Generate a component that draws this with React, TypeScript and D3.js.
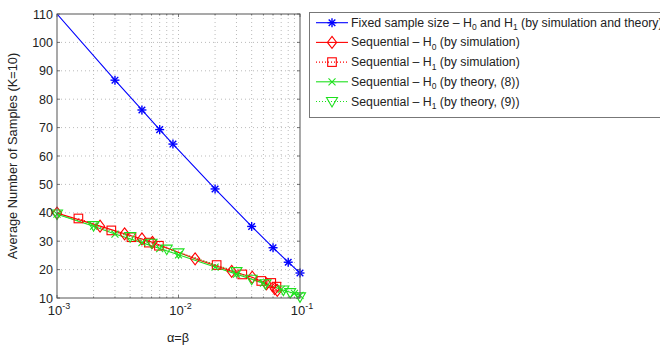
import React from "react";
import * as d3 from "d3";

// ---- data ----
const alphaFixed = [0.001, 0.003, 0.005, 0.007, 0.009, 0.02, 0.04, 0.06, 0.08, 0.1];
const nFixed = [110, 86.7, 76.2, 69.3, 64.2, 48.4, 35.2, 27.7, 22.6, 18.8];

const alphaSimH0 = [0.001, 0.00226, 0.0036, 0.005, 0.0061, 0.0137, 0.0274, 0.0405, 0.053, 0.062, 0.065];
const nSimH0 = [39.9, 35.3, 32.6, 30.8, 29.6, 23.8, 19.4, 17.3, 15.0, 13.3, 12.7];

const alphaSimH1 = [0.0015, 0.0028, 0.0041, 0.0057, 0.0069, 0.0206, 0.0335, 0.048, 0.058, 0.064];
const nSimH1 = [38.0, 33.8, 31.4, 29.5, 28.4, 21.6, 18.3, 16.0, 15.3, 14.0];

const alphaThH0 = [0.001, 0.002, 0.003, 0.005, 0.007, 0.01, 0.02, 0.03, 0.05, 0.07, 0.09, 0.1];
const nThH0 = [39.5, 35.3, 32.5, 29.5, 27.4, 25.2, 20.9, 18.4, 15.2, 13.0, 11.6, 10.9];

const alphaThH1 = [0.001, 0.002, 0.004, 0.006, 0.008, 0.01, 0.03, 0.04, 0.052, 0.073, 0.083, 0.1];
const nThH1 = [39.6, 35.5, 31.6, 29.3, 27.2, 25.9, 19.3, 16.6, 15.0, 12.8, 11.9, 10.4];

const yTicks = [10, 20, 30, 40, 50, 60, 70, 80, 90, 100, 110];
const xMajor = [0.001, 0.01, 0.1];
const xMajorExp = ["-3", "-2", "-1"];

const BLUE = "#0000ff";
const RED = "#ff0000";
const GREEN = "#1ee01e";

type Kind = "star" | "diamond" | "square" | "x" | "tri";

function Marker({ kind, x, y, color }: { kind: Kind; x: number; y: number; color: string }) {
  const sw = 1.1;
  if (kind === "star") {
    const r = 4.5, d = 3.3;
    return (
      <g stroke={color} strokeWidth={1.4}>
        <line x1={x - r} y1={y} x2={x + r} y2={y} />
        <line x1={x} y1={y - r} x2={x} y2={y + r} />
        <line x1={x - d} y1={y - d} x2={x + d} y2={y + d} />
        <line x1={x - d} y1={y + d} x2={x + d} y2={y - d} />
      </g>
    );
  }
  if (kind === "diamond") {
    return <path d={`M${x},${y - 6}L${x + 4.6},${y}L${x},${y + 6}L${x - 4.6},${y}Z`} fill="none" stroke={color} strokeWidth={sw} />;
  }
  if (kind === "square") {
    return <rect x={x - 4.3} y={y - 4.3} width={8.6} height={8.6} fill="none" stroke={color} strokeWidth={sw} />;
  }
  if (kind === "x") {
    const r = 3.5;
    return (
      <g stroke={color} strokeWidth={sw}>
        <line x1={x - r} y1={y - r} x2={x + r} y2={y + r} />
        <line x1={x - r} y1={y + r} x2={x + r} y2={y - r} />
      </g>
    );
  }
  return <path d={`M${x - 5.5},${y - 4}L${x + 5.5},${y - 4}L${x},${y + 5.5}Z`} fill="none" stroke={color} strokeWidth={sw} />;
}

export default function App() {
  const left = 57, right = 300, top = 14, bottom = 298;
  const x = d3.scaleLog().domain([0.001, 0.1]).range([left, right]);
  const y = d3.scaleLinear().domain([10, 110]).range([bottom, top]);
  const line = d3
    .line<[number, number]>()
    .x((d) => x(d[0]))
    .y((d) => y(d[1]));
  const zip = (a: number[], b: number[]) => a.map((v, i) => [v, b[i]] as [number, number]);

  const minor: number[] = [];
  [0.001, 0.01].forEach((base) => {
    for (let k = 2; k <= 9; k++) minor.push(base * k);
  });
  const font = "'Liberation Sans', Arial, Helvetica, sans-serif";
  const axisColor = "#555";
  const gridColor = "#aaa";
  const LF = 12.3;

  const series: { xs: number[]; ys: number[]; color: string; kind: Kind; dash?: string; skipFirst?: boolean }[] = [
    { xs: alphaFixed, ys: nFixed, color: BLUE, kind: "star", skipFirst: true },
    { xs: alphaSimH0, ys: nSimH0, color: RED, kind: "diamond" },
    { xs: alphaSimH1, ys: nSimH1, color: RED, kind: "square", dash: "1,2" },
    { xs: alphaThH0, ys: nThH0, color: GREEN, kind: "x" },
    { xs: alphaThH1, ys: nThH1, color: GREEN, kind: "tri", dash: "1,2" },
  ];

  const sub = (s: string) => (
    <tspan fontSize={8.5} dy={3.5}>
      {s}
    </tspan>
  );

  const legendItems: { kind: Kind; color: string; dash?: string; label: React.ReactNode }[] = [
    {
      kind: "star",
      color: BLUE,
      label: (
        <>
          Fixed sample size – H{sub("0")}
          <tspan dy={-3.5}> and H</tspan>
          {sub("1")}
          <tspan dy={-3.5}> (by simulation and theory)</tspan>
        </>
      ),
    },
    {
      kind: "diamond",
      color: RED,
      label: (
        <>
          Sequential – H{sub("0")}
          <tspan dy={-3.5}> (by simulation)</tspan>
        </>
      ),
    },
    {
      kind: "square",
      color: RED,
      dash: "1,2",
      label: (
        <>
          Sequential – H{sub("1")}
          <tspan dy={-3.5}> (by simulation)</tspan>
        </>
      ),
    },
    {
      kind: "x",
      color: GREEN,
      label: (
        <>
          Sequential – H{sub("0")}
          <tspan dy={-3.5}> (by theory, (8))</tspan>
        </>
      ),
    },
    {
      kind: "tri",
      color: GREEN,
      dash: "1,2",
      label: (
        <>
          Sequential – H{sub("1")}
          <tspan dy={-3.5}> (by theory, (9))</tspan>
        </>
      ),
    },
  ];

  return (
    <svg
      width={660}
      height={349}
      style={{ position: "fixed", left: 0, top: 0, background: "#fff" }}
      fontFamily={font}
    >
      <rect x={0} y={0} width={660} height={349} fill="#fff" />
      <defs>
        <clipPath id="plot">
          <rect x={left} y={top} width={right - left} height={bottom - top} />
        </clipPath>
      </defs>
      {/* grid */}
      <g stroke={gridColor} strokeWidth={0.8} strokeDasharray="1,3">
        {yTicks.slice(1, -1).map((t) => (
          <line key={"gy" + t} x1={left} x2={right} y1={y(t)} y2={y(t)} />
        ))}
        {[...minor, 0.01].map((t, i) => (
          <line key={"gx" + i} x1={x(t)} x2={x(t)} y1={top} y2={bottom} />
        ))}
      </g>
      {/* ticks */}
      <g stroke={axisColor} strokeWidth={0.8}>
        {yTicks.map((t) => (
          <g key={"ty" + t}>
            <line x1={left} x2={left + 3} y1={y(t)} y2={y(t)} />
            <line x1={right} x2={right - 3} y1={y(t)} y2={y(t)} />
          </g>
        ))}
        {xMajor.map((t) => (
          <g key={"tx" + t}>
            <line x1={x(t)} x2={x(t)} y1={bottom} y2={bottom - 3} />
            <line x1={x(t)} x2={x(t)} y1={top} y2={top + 3} />
          </g>
        ))}
        {minor.map((t, i) => (
          <g key={"tm" + i}>
            <line x1={x(t)} x2={x(t)} y1={bottom} y2={bottom - 1.5} />
            <line x1={x(t)} x2={x(t)} y1={top} y2={top + 1.5} />
          </g>
        ))}
      </g>
      {/* series */}
      <g clipPath="url(#plot)">
        {series.map((s, si) => (
          <path
            key={"l" + si}
            d={line(zip(s.xs, s.ys)) || ""}
            fill="none"
            stroke={s.color}
            strokeWidth={1.1}
            strokeDasharray={s.dash}
          />
        ))}
      </g>
      {series.map((s, si) => (
        <g key={"m" + si}>
          {s.xs.map((a, i) =>
            s.skipFirst && i === 0 ? null : (
              <Marker key={i} kind={s.kind} x={x(a)} y={y(s.ys[i])} color={s.color} />
            )
          )}
        </g>
      ))}
      {/* frame */}
      <rect x={left} y={top} width={right - left} height={bottom - top} fill="none" stroke={axisColor} strokeWidth={1} />
      {/* y tick labels */}
      <g fontSize={12.5} fill="#222" textAnchor="end">
        {yTicks.map((t) => (
          <text key={"yl" + t} x={left - 4} y={y(t) + 4.5}>
            {t}
          </text>
        ))}
      </g>
      {/* x tick labels */}
      <g fontSize={13} fill="#222" textAnchor="middle">
        {xMajor.map((t, i) => (
          <text key={"xl" + t} x={x(t) + 2} y={315}>
            10
            <tspan fontSize={9} dy={-6.5}>
              {xMajorExp[i]}
            </tspan>
          </text>
        ))}
      </g>
      <text x={178} y={342} fontSize={12.8} textAnchor="middle" fill="#222">
        α=β
      </text>
      <text
        transform={`translate(17,${(top + bottom) / 2}) rotate(-90)`}
        fontSize={12.8}
        textAnchor="middle"
        fill="#222"
      >
        Average Number of Samples (K=10)
      </text>
      {/* legend */}
      <rect x={309.5} y={12.5} width={360} height={105} fill="#fff" stroke="#777" strokeWidth={1} />
      {legendItems.map((it, i) => {
        const ly = 22.7 + i * 19.7;
        return (
          <g key={"lg" + i}>
            <line x1={316} x2={348} y1={ly} y2={ly} stroke={it.color} strokeWidth={1.1} strokeDasharray={it.dash} />
            <Marker kind={it.kind} x={332} y={ly} color={it.color} />
            <text x={351} y={ly + 4} fontSize={LF} fill="#222">
              {it.label}
            </text>
          </g>
        );
      })}
    </svg>
  );
}
